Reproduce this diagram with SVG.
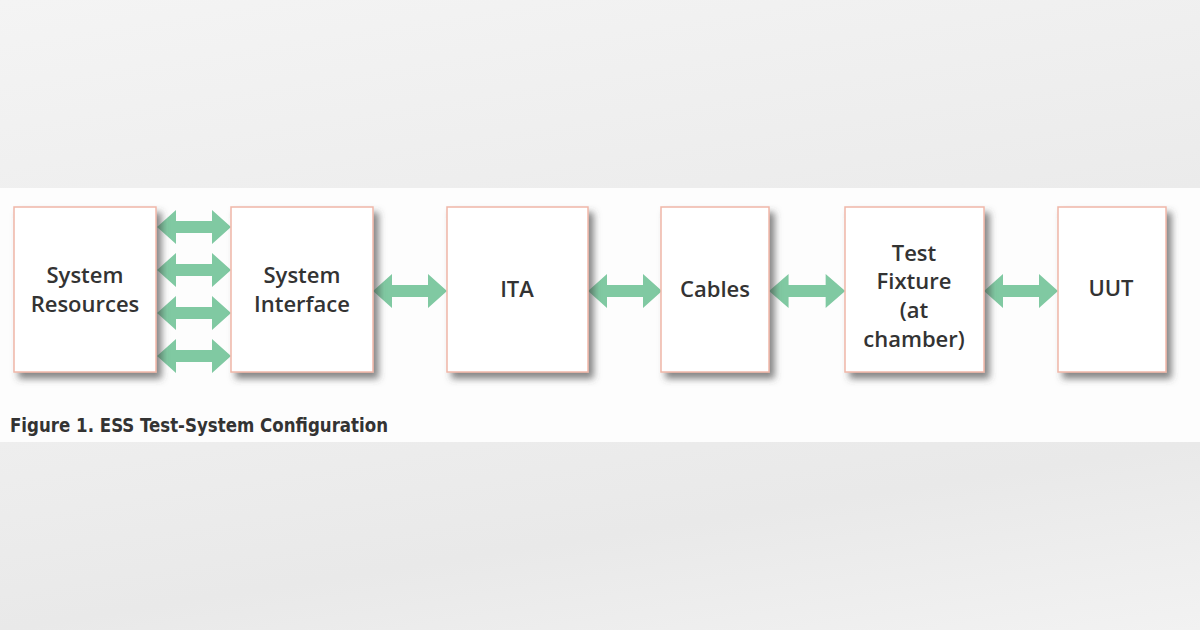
<svg xmlns="http://www.w3.org/2000/svg" xmlns:xlink="http://www.w3.org/1999/xlink" width="1200" height="630" viewBox="0 0 1200 630">
<defs>
<linearGradient id="bgTop" x1="0" y1="0" x2="1" y2="1">
<stop offset="0" stop-color="#f4f4f4"/>
<stop offset="1" stop-color="#ebebeb"/>
</linearGradient>
<linearGradient id="bgBot" x1="0" y1="0" x2="1" y2="1">
<stop offset="0" stop-color="#eeeeee"/>
<stop offset="0.5" stop-color="#e9e9e9"/>
<stop offset="1" stop-color="#f2f2f2"/>
</linearGradient>
<filter id="shadow" x="-10%" y="-10%" width="130%" height="130%">
<feDropShadow dx="5" dy="6" stdDeviation="3.5" flood-color="#444" flood-opacity="0.65"/>
</filter>
<path id="dblArrow" d="M0,0 L19,-17 L19,-6 L55,-6 L55,-17 L74,0 L55,17 L55,6 L19,6 L19,17 Z"/>
<style>
.box{fill:#ffffff;stroke:#f0b7a8;stroke-width:1.5;filter:url(#shadow);}
.lbl{font-family:"Open Sans","DejaVu Sans",sans-serif;font-weight:600;font-size:22px;fill:#333;text-anchor:middle;}
.arrow{fill:#80c9a2;}
.cap{font-family:"DejaVu Sans Condensed","DejaVu Sans",sans-serif;font-weight:bold;font-size:19px;fill:#333;}
</style>
</defs>
<rect x="0" y="0" width="1200" height="188" fill="url(#bgTop)"/>
<rect x="0" y="188" width="1200" height="254" fill="#fdfdfd"/>
<rect x="0" y="442" width="1200" height="188" fill="url(#bgBot)"/>

<g id="connectors">
<use xlink:href="#dblArrow" class="arrow" transform="translate(157,227)"/>
<use xlink:href="#dblArrow" class="arrow" transform="translate(157,270)"/>
<use xlink:href="#dblArrow" class="arrow" transform="translate(157,313)"/>
<use xlink:href="#dblArrow" class="arrow" transform="translate(157,356)"/>
<use xlink:href="#dblArrow" class="arrow" transform="translate(373,291)"/>
<use xlink:href="#dblArrow" class="arrow" transform="translate(588,291)"/>
<use xlink:href="#dblArrow" class="arrow" transform="translate(769,291) scale(1.03,1)"/>
<use xlink:href="#dblArrow" class="arrow" transform="translate(984,291)"/>
</g>

<g id="system-resources">
<rect class="box" x="14" y="207" width="142" height="165"/>
<text class="lbl" x="85" y="283">System</text>
<text class="lbl" x="85" y="312">Resources</text>
</g>
<g id="system-interface">
<rect class="box" x="231" y="207" width="142" height="165"/>
<text class="lbl" x="302" y="283">System</text>
<text class="lbl" x="302" y="312">Interface</text>
</g>
<g id="ita">
<rect class="box" x="447" y="207" width="141" height="165"/>
<text class="lbl" x="517" y="297">ITA</text>
</g>
<g id="cables">
<rect class="box" x="661" y="207" width="108" height="165"/>
<text class="lbl" x="715" y="297">Cables</text>
</g>
<g id="test-fixture">
<rect class="box" x="845" y="207" width="139" height="165"/>
<text class="lbl" x="914" y="261">Test</text>
<text class="lbl" x="914" y="289">Fixture</text>
<text class="lbl" x="914" y="318">(at</text>
<text class="lbl" x="914" y="347">chamber)</text>
</g>
<g id="uut">
<rect class="box" x="1058" y="207" width="108" height="165"/>
<text class="lbl" x="1111" y="296">UUT</text>
</g>

<text class="cap" x="10" y="432" textLength="378" lengthAdjust="spacingAndGlyphs">Figure 1. ESS Test-System Configuration</text>
</svg>
